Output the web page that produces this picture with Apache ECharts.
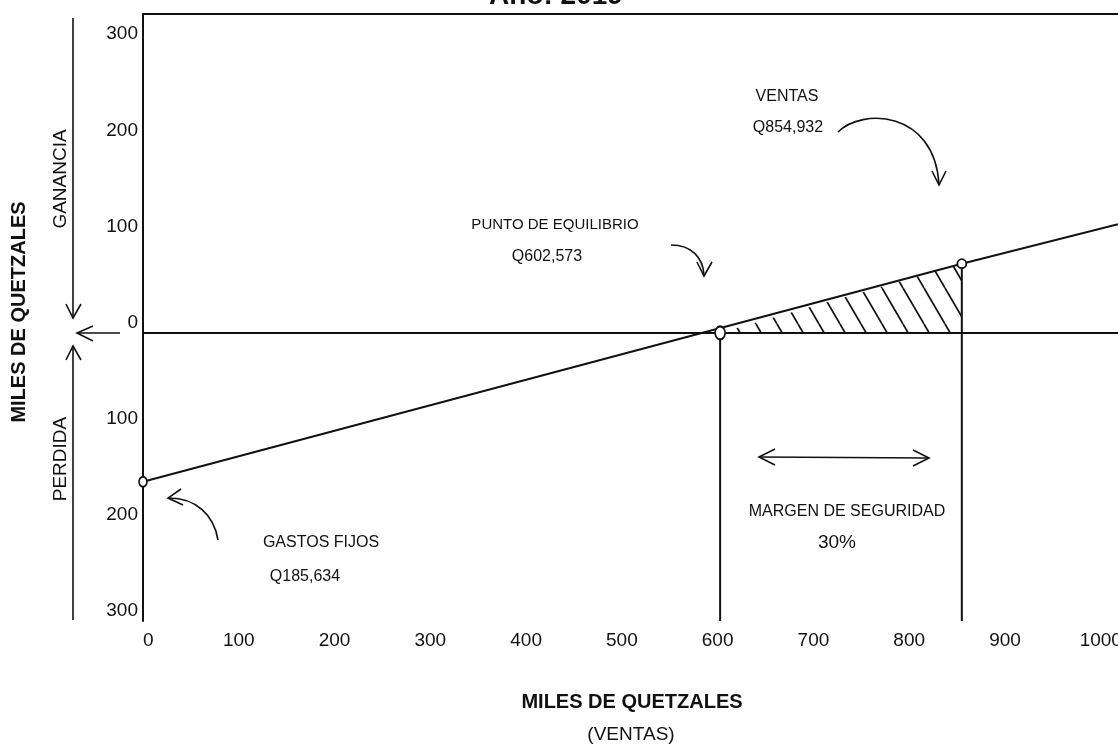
<!DOCTYPE html>
<html><head><meta charset="utf-8">
<script src="https://cdn.jsdelivr.net/npm/echarts@6/dist/echarts.min.js"></script>
<style>html,body{margin:0;padding:0;background:#fff;}#c{width:1118px;height:745px;}</style>
</head><body><div id="c"></div>
<script>
// ---- datos (miles de quetzales) ----
const titulo = 'Año: 2019';
const ventasLineaX = [0, 854.932, 1018];        // ventas
const utilidadLineaY = [-155, 72, 113];         // utilidad (+) / pérdida (-)
const gastosFijos = [0, -155];
const puntoEquilibrio = [602.573, 0];
const ventasActuales = [854.932, 72];
const xTicks = [0, 100, 200, 300, 400, 500, 600, 700, 800, 900, 1000];
const yTicks = [-300, -200, -100, 0, 100, 200, 300];
const xMin = 0, xMax = 1018, yMin = -300, yMax = 332;

const FONT = 'Liberation Sans, Arial, sans-serif';
const INK = '#111';

function hatch() {
  const w = 21, h = 36, c = document.createElement('canvas');
  c.width = w; c.height = h;
  const g = c.getContext('2d');
  g.strokeStyle = INK; g.lineWidth = 1.7;
  for (const dx of [-w, 0, w]) { g.beginPath(); g.moveTo(dx, 0); g.lineTo(dx + w, h); g.stroke(); }
  return c;
}

const chart = echarts.init(document.getElementById('c'), null, {renderer: 'canvas'});
const lineData = ventasLineaX.map((x, i) => [x, utilidadLineaY[i]]);
const pts = [gastosFijos, puntoEquilibrio, ventasActuales];
const ptSizes = [[8, 10], [10, 13], [9, 9]];

function txt(text, x, y, size, opts) {
  return Object.assign({
    type: 'text', x: x, y: y, silent: true,
    style: Object.assign({text: text, fontSize: size, fontFamily: FONT, fill: INK, align: 'center', verticalAlign: 'middle'}, (opts && opts.style) || {})
  }, (opts && opts.el) || {});
}
function poly(points, w) {
  return {type: 'polyline', silent: true, shape: {points: points}, style: {stroke: INK, lineWidth: w || 1.6, fill: null}};
}
function curve(s) {
  return {type: 'bezierCurve', silent: true, shape: s, style: {stroke: INK, lineWidth: 1.6, fill: null}};
}

chart.setOption({
  animation: false,
  backgroundColor: '#fff',
  grid: {left: 143, right: 0, top: 14, bottom: 124, containLabel: false, outerBoundsMode: 'none'},
  xAxis: [{
    type: 'value', min: xMin, max: xMax, interval: 100, position: 'bottom',
    axisLine: {show: true, lineStyle: {color: INK, width: 2}},
    axisTick: {show: false}, splitLine: {show: false},
    axisLabel: {customValues: xTicks, color: INK, fontSize: 19, fontFamily: FONT, margin: 10,
      alignMinLabel: 'left', formatter: v => String(v), hideOverlap: false}
  }, {
    type: 'value', min: xMin, max: xMax, position: 'top',
    axisLine: {show: true, lineStyle: {color: INK, width: 2}},
    axisTick: {show: false}, splitLine: {show: false}, axisLabel: {show: false}
  }],
  yAxis: {
    type: 'value', min: yMin, max: yMax, interval: 100,
    axisLine: {show: true, lineStyle: {color: INK, width: 2}},
    axisTick: {show: false}, splitLine: {show: false},
    axisLabel: {customValues: yTicks, color: INK, fontSize: 19, fontFamily: FONT, margin: 5,
      verticalAlign: 'bottom', padding: [0, 0, 1, 0], formatter: v => String(Math.abs(v))}
  },
  series: [
    {type: 'line', name: 'margen', data: [puntoEquilibrio, ventasActuales], symbol: 'none', silent: true,
      lineStyle: {width: 0}, areaStyle: {color: {image: hatch(), repeat: 'repeat'}, opacity: 1}, z: 1},
    {type: 'line', name: 'utilidad', data: lineData, symbol: 'none', silent: true,
      lineStyle: {color: INK, width: 2}, z: 3,
      markLine: {silent: true, symbol: ['none', 'none'], label: {show: false},
        lineStyle: {color: INK, width: 1.6, type: 'solid'}, data: [{yAxis: 0}]}},
    {type: 'line', name: 'eq', data: [puntoEquilibrio, [puntoEquilibrio[0], yMin]], symbol: 'none', silent: true,
      lineStyle: {color: INK, width: 2}, z: 3},
    {type: 'line', name: 'ventas', data: [ventasActuales, [ventasActuales[0], yMin]], symbol: 'none', silent: true,
      lineStyle: {color: INK, width: 2}, z: 3},
    {type: 'scatter', name: 'puntos', data: pts, silent: true, z: 5,
      symbol: 'circle', symbolSize: (v, p) => ptSizes[p.dataIndex],
      itemStyle: {color: '#fff', borderColor: INK, borderWidth: 1.8, opacity: 1}}
  ],
  graphic: [
    txt(titulo, 556, 10, 28, {style: {fontWeight: 'bold', verticalAlign: 'bottom'}}),
    // eje Y izquierdo
    txt('MILES DE QUETZALES', 19, 312, 20, {style: {fontWeight: 'bold'}, el: {rotation: Math.PI / 2}}),
    txt('GANANCIA', 61, 179, 19, {el: {rotation: Math.PI / 2}}),
    txt('PERDIDA', 61, 459, 19, {el: {rotation: Math.PI / 2}}),
    {type: 'line', silent: true, shape: {x1: 73, y1: 18, x2: 73, y2: 318}, style: {stroke: INK, lineWidth: 1.6}},
    poly([[66, 304], [73, 318], [81, 304]]),
    {type: 'line', silent: true, shape: {x1: 77, y1: 333, x2: 120, y2: 333}, style: {stroke: INK, lineWidth: 1.4}},
    poly([[93, 326], [77, 333], [93, 341]]),
    {type: 'line', silent: true, shape: {x1: 73, y1: 346, x2: 73, y2: 620}, style: {stroke: INK, lineWidth: 1.6}},
    poly([[66, 360], [73, 346], [81, 360]]),
    // anotaciones
    txt('VENTAS', 787, 97, 16),
    txt('Q854,932', 788, 128, 16),
    curve({x1: 838, y1: 132, cpx1: 862, cpy1: 108, cpx2: 934, cpy2: 110, x2: 939, y2: 184}),
    poly([[932, 171], [939, 185], [946, 171]]),
    txt('PUNTO DE EQUILIBRIO', 555, 225, 15),
    txt('Q602,573', 547, 257, 16),
    curve({x1: 671, y1: 245, cpx1: 692, cpy1: 245, cpx2: 703, cpy2: 258, x2: 704, y2: 275}),
    poly([[697, 262], [704, 276], [712, 262]]),
    txt('GASTOS FIJOS', 321, 543, 16),
    txt('Q185,634', 305, 577, 16),
    curve({x1: 218, y1: 540, cpx1: 214, cpy1: 515, cpx2: 196, cpy2: 498, x2: 169, y2: 498}),
    poly([[181, 489], [168, 498], [183, 505]]),
    txt('MARGEN DE SEGURIDAD', 847, 512, 16),
    txt('30%', 837, 543, 19),
    {type: 'line', silent: true, shape: {x1: 760, y1: 457, x2: 928, y2: 458}, style: {stroke: INK, lineWidth: 1.6}},
    poly([[775, 449], [759, 457], [775, 465]]),
    poly([[913, 450], [929, 458], [913, 466]]),
    // eje X
    txt('MILES DE QUETZALES', 632, 702, 20, {style: {fontWeight: 'bold'}}),
    txt('(VENTAS)', 631, 735, 19)
  ]
});
</script></body></html>
